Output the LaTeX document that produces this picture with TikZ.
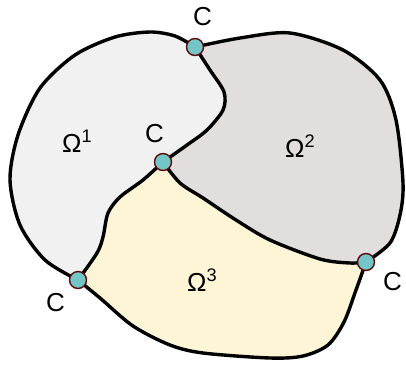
\documentclass[tikz,border=0pt]{standalone}
\usepackage{fontspec}
\setmainfont{Liberation Sans}
\definecolor{omA}{HTML}{F1F1F1}
\definecolor{omB}{HTML}{E2DEDD}
\definecolor{omC}{HTML}{FEF4D6}
\definecolor{dotfill}{HTML}{74C5C8}
\definecolor{dotline}{HTML}{5A0A0A}
\begin{document}
\begin{tikzpicture}[x=1pt,y=-1pt,
  bnd/.style={line width=3.4pt,line join=round,line cap=round},
  junc/.style={circle,draw=dotline,fill=dotfill,line width=1.4pt,minimum size=17pt,inner sep=0pt},
  lbl/.style={anchor=base west,inner sep=0pt,font=\fontsize{26}{30}\selectfont}]
\useasboundingbox (0,0) rectangle (406,365);
% regions
\fill[omA] plot[smooth] coordinates {(195,47) (175,36) (150,32) (115,37) (75,55) (40,88) (18,135) (10,180) (20,225) (45,260) (78,280)}
  -- plot[smooth] coordinates {(78,280) (97,253) (103,237) (108,213) (120,197) (143,180) (163,162)}
  -- plot[smooth] coordinates {(163,162) (187,145) (207,130) (223,110) (224,92) (210,70) (195,47)} -- cycle;
\fill[omB] plot[smooth] coordinates {(195,47) (210,70) (224,92) (223,110) (207,130) (187,145) (163,162)}
  -- plot[smooth] coordinates {(163,162) (180,183) (203,198) (236,220) (270,240) (320,259) (350,263) (366,262)}
  -- plot[smooth] coordinates {(366,262) (390,243) (400,215) (403,183) (396,120) (380,80) (343,50) (290,33) (240,38) (195,47)} -- cycle;
\fill[omC] plot[smooth] coordinates {(163,162) (143,180) (120,197) (108,213) (103,237) (97,253) (78,280)}
  -- plot[smooth] coordinates {(78,280) (100,298) (133,326) (170,345) (203,353) (270,358) (303,356) (328,345) (344,322) (356,290) (366,262)}
  -- plot[smooth] coordinates {(366,262) (350,263) (320,259) (270,240) (236,220) (203,198) (180,183) (163,162)} -- cycle;
% boundaries
\draw[bnd] plot[smooth] coordinates {(195,47) (175,36) (150,32) (115,37) (75,55) (40,88) (18,135) (10,180) (20,225) (45,260) (78,280)};
\draw[bnd] plot[smooth] coordinates {(195,47) (210,70) (224,92) (223,110) (207,130) (187,145) (163,162)};
\draw[bnd] plot[smooth] coordinates {(163,162) (143,180) (120,197) (108,213) (103,237) (97,253) (78,280)};
\draw[bnd] plot[smooth] coordinates {(163,162) (180,183) (203,198) (236,220) (270,240) (320,259) (350,263) (366,262)};
\draw[bnd] plot[smooth] coordinates {(195,47) (240,38) (290,33) (343,50) (380,80) (396,120) (403,183) (400,215) (390,243) (366,262)};
\draw[bnd] plot[smooth] coordinates {(78,280) (100,298) (133,326) (170,345) (203,353) (270,358) (303,356) (328,345) (344,322) (356,290) (366,262)};
% junctions
\node[junc] (jt) at (195,47) {};
\node[junc] (jm) at (163,162) {};
\node[junc] (jl) at (78,280) {};
\node[junc] (jr) at (366,262) {};
% labels
\node[lbl] (ct) at (193,25) {C};
\node[lbl] (cm) at (145,142) {C};
\node[lbl] (cl) at (46,311) {C};
\node[lbl] (cr) at (383,290) {C};
\node[lbl] (o1) at (62,152) {Ω\textsuperscript{1}};
\node[lbl] (o2) at (285,157) {Ω\textsuperscript{2}};
\node[lbl] (o3) at (187,291) {Ω\textsuperscript{3}};
\end{tikzpicture}
\end{document}
